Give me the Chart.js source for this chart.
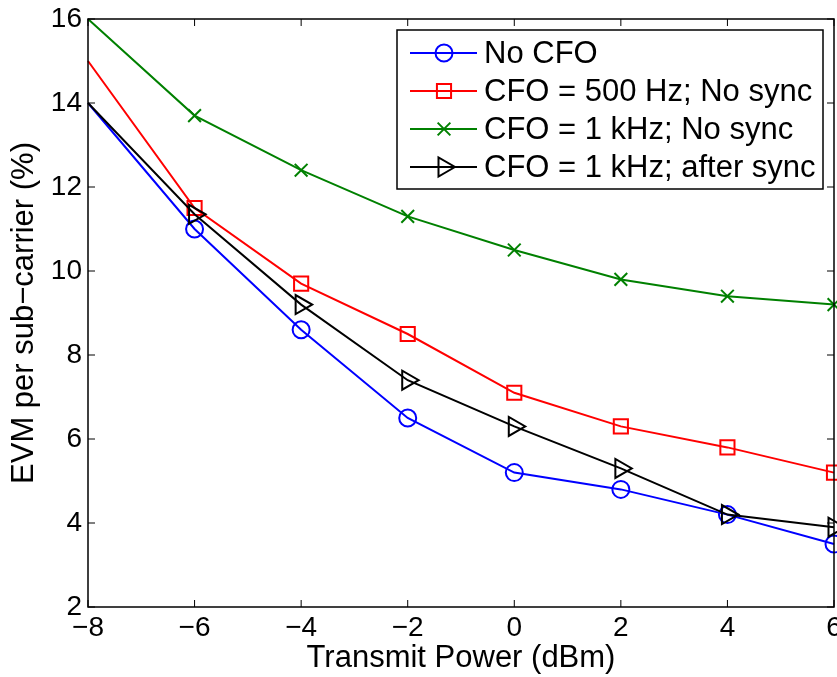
<!DOCTYPE html>
<html>
<head>
<meta charset="utf-8">
<script src="https://cdn.jsdelivr.net/npm/chart.js@4.4.1/dist/chart.umd.min.js"></script>
<style>
  html, body { margin: 0; padding: 0; background: #fff; }
  #wrap { width: 837px; height: 677px; }
</style>
</head>
<body>
<div id="wrap"><canvas id="c" width="837" height="677"></canvas></div>
<script>
// ---- data ----
const xValues = [-8, -6, -4, -2, 0, 2, 4, 6];
const noCfo      = [14, 11.0, 8.6, 6.5, 5.2, 4.8, 4.2, 3.5];
const cfo500     = [15, 11.5, 9.7, 8.5, 7.1, 6.3, 5.8, 5.2];
const cfo1k      = [16, 13.7, 12.4, 11.3, 10.5, 9.8, 9.4, 9.2];
const cfo1kSync  = [14, 11.35, 9.2, 7.4, 6.3, 5.3, 4.2, 3.9];
const seriesLabels = ['No CFO', 'CFO = 500 Hz; No sync', 'CFO = 1 kHz; No sync', 'CFO = 1 kHz; after sync'];
const xTicks = [-8, -6, -4, -2, 0, 2, 4, 6];
const yTicks = [2, 4, 6, 8, 10, 12, 14, 16];
const xTitle = 'Transmit Power (dBm)';
const yTitle = 'EVM per sub\u2212carrier (%)';

const FONT = "'Liberation Sans', Arial, Helvetica, sans-serif";

function pts(ys) { return xValues.map((x, i) => ({ x: x, y: ys[i] })); }
function fmt(v) { return v < 0 ? '\u2212' + Math.abs(v) : String(v); }

const styles = [
  { color: '#0000ff', pointStyle: 'circle', radius: 8.5, rotation: 0, order: 3 },
  { color: '#ff0000', pointStyle: 'rect', radius: 10, rotation: 0, order: 2 },
  { color: '#008000', pointStyle: 'crossRot', radius: 9, rotation: 0, order: 1 },
  { color: '#000000', pointStyle: 'triangle', radius: 11, rotation: 90, order: 0 }
];
const seriesData = [noCfo, cfo500, cfo1k, cfo1kSync];

const datasets = seriesData.map((ys, k) => ({
  label: seriesLabels[k],
  data: pts(ys),
  borderColor: styles[k].color,
  backgroundColor: 'rgba(0,0,0,0)',
  borderWidth: 2,
  pointStyle: styles[k].pointStyle,
  pointRotation: styles[k].rotation,
  pointRadius: ctx => (ctx.dataIndex === 0 ? 0 : styles[k].radius),
  pointBorderWidth: 2,
  pointBorderColor: styles[k].color,
  pointBackgroundColor: 'rgba(0,0,0,0)',
  showLine: true,
  tension: 0,
  clip: false,
  order: styles[k].order
}));

function drawMarker(ctx, st, x, y) {
  ctx.save();
  ctx.strokeStyle = st.color;
  ctx.fillStyle = 'rgba(0,0,0,0)';
  ctx.lineWidth = 2;
  Chart.helpers.drawPoint(ctx, { pointStyle: st.pointStyle, radius: st.radius, rotation: st.rotation, borderWidth: 2 }, x, y);
  ctx.restore();
}

const framePlugin = {
  id: 'frame',
  afterDraw(chart) {
    const ctx = chart.ctx;
    const a = chart.chartArea;
    const xs = chart.scales.x, ys = chart.scales.y;
    ctx.save();
    ctx.strokeStyle = '#000';
    ctx.lineWidth = 1.5;
    ctx.strokeRect(a.left, a.top, a.right - a.left, a.bottom - a.top);
    const tl = 7;
    ctx.beginPath();
    xTicks.forEach(v => {
      const px = xs.getPixelForValue(v);
      ctx.moveTo(px, a.bottom); ctx.lineTo(px, a.bottom - tl);
      ctx.moveTo(px, a.top); ctx.lineTo(px, a.top + tl);
    });
    yTicks.forEach(v => {
      const py = ys.getPixelForValue(v);
      ctx.moveTo(a.left, py); ctx.lineTo(a.left + tl, py);
      ctx.moveTo(a.right, py); ctx.lineTo(a.right - tl, py);
    });
    ctx.lineWidth = 1;
    ctx.stroke();

    // legend
    const bx = 397, by = 30, bw = 426, bh = 159;
    ctx.fillStyle = '#fff';
    ctx.fillRect(bx, by, bw, bh);
    ctx.lineWidth = 1.5;
    ctx.strokeStyle = '#000';
    ctx.strokeRect(bx, by, bw, bh);
    const rows = [53, 91, 129, 167];
    ctx.font = '31px ' + FONT;
    ctx.textBaseline = 'middle';
    ctx.textAlign = 'left';
    seriesLabels.forEach((lab, k) => {
      const y = rows[k];
      ctx.strokeStyle = styles[k].color;
      ctx.lineWidth = 2;
      ctx.beginPath();
      ctx.moveTo(410, y); ctx.lineTo(477, y);
      ctx.stroke();
      drawMarker(ctx, styles[k], 444, y);
      ctx.fillStyle = '#000';
      ctx.fillText(lab, 484, y + 1);
    });
    ctx.restore();
  }
};

new Chart(document.getElementById('c'), {
  type: 'line',
  data: { datasets: datasets },
  options: {
    responsive: false,
    animation: false,
    devicePixelRatio: 1,
    layout: { autoPadding: false, padding: { top: 19, right: 3, left: 0, bottom: 0 } },
    plugins: { legend: { display: false }, tooltip: { enabled: false } },
    scales: {
      x: {
        type: 'linear', min: -8, max: 6,
        afterBuildTicks: s => { s.ticks = xTicks.map(v => ({ value: v })); },
        afterFit: s => { s.height = 70; s.paddingLeft = 0; s.paddingRight = 0; },
        ticks: { font: { family: FONT, size: 28 }, color: '#000', padding: 4, callback: v => fmt(v), maxRotation: 0, autoSkip: false },
        grid: { display: false, drawTicks: false },
        border: { display: false },
        title: { display: true, text: xTitle, color: '#000', font: { family: FONT, size: 31 }, padding: { top: 0, bottom: 0 } }
      },
      y: {
        type: 'linear', min: 2, max: 16,
        afterBuildTicks: s => { s.ticks = yTicks.map(v => ({ value: v })); },
        afterFit: s => { s.width = 88; s.paddingTop = 0; s.paddingBottom = 0; },
        ticks: { font: { family: FONT, size: 28 }, color: '#000', padding: 6, callback: v => fmt(v), autoSkip: false },
        grid: { display: false, drawTicks: false },
        border: { display: false },
        title: { display: true, text: yTitle, color: '#000', font: { family: FONT, size: 31 }, padding: { top: 6, bottom: 0 } }
      }
    }
  },
  plugins: [framePlugin]
});
</script>
</body>
</html>
